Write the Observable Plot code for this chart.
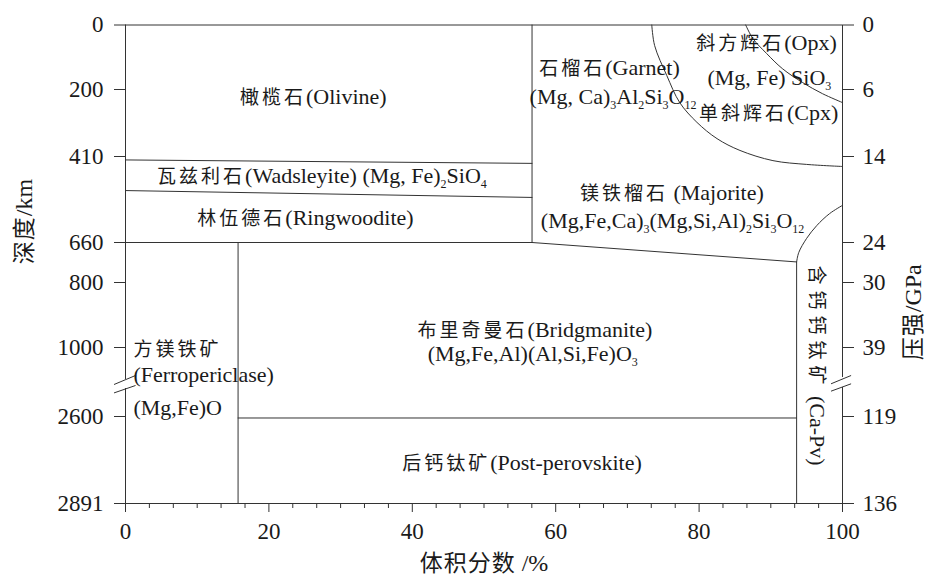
<!DOCTYPE html>
<html><head><meta charset="utf-8">
<script src="https://cdn.jsdelivr.net/npm/d3@7"></script>
<script src="https://cdn.jsdelivr.net/npm/@observablehq/plot@0.6"></script>
<style>
html,body{margin:0;padding:0;background:#fff;}
</style>
</head><body><div id="chart"></div>
<script>
// ---- Axis data ----
const depthTicks = [0, 200, 410, 660, 800, 1000, 2600, 2891];
const pressureLabels = ["0", "6", "14", "24", "30", "39", "119", "136"];
const xTicks = [0, 20, 40, 60, 80, 100];
const xMinorTicks = [3.33, 6.67, 10, 13.33, 16.67, 23.33, 26.67, 30, 33.33, 36.67,
  43.33, 46.67, 50, 53.33, 56.67, 63.33, 66.67, 70, 73.33, 76.67,
  83.33, 86.67, 90, 93.33, 96.67];

// ---- Phase boundaries: [volume %, depth km] ----
const olivineBase = [[0, 420], [56.7, 430]];
const wadsleyiteBase = [[0, 509], [56.7, 529]];
const ringwooditeBase = [[0, 660], [56.7, 660]];
const garnetEdge = [[56.7, 0], [56.7, 660]];
const majoriteBase = [[56.7, 660], [93.6, 728]];
const ferroEdge = [[15.7, 660], [15.7, 2891]];
const ppvTop = [[15.7, 2605], [93.6, 2605]];
const caPvEdge = [[93.6, 728], [93.6, 2891]];
const caPvCurve = [[93.6, 728], [93.9, 695], [95.0, 648], [96.4, 611], [98.2, 576], [100, 552]];
const cpxCurve = [[73.4, 0], [73.8, 64], [75.5, 157], [77.3, 241], [79.7, 303], [82.5, 354], [85.7, 391], [90.3, 422], [95.0, 433], [100, 439]];
const opxCurve = [[86.5, 0], [87.5, 42], [89.4, 88], [91.6, 135], [94.4, 178], [97.2, 213], [100, 241]];

// ---- Axis frame with breaks ----
const leftFrame = [{x: 0, y1: 0, y2: 1742}, {x: 0, y1: 1951, y2: 2891}];
const rightFrame = [{x: 100, y1: 0, y2: 1695}, {x: 100, y1: 1927, y2: 2891}];
const breakMarks = [
  {x1: -1.6, y1: 1858, x2: 1.4, y2: 1649},
  {x1: -1.6, y1: 2053, x2: 1.4, y2: 1881},
  {x1: 98.4, y1: 1842, x2: 101.2, y2: 1649},
  {x1: 98.4, y1: 2013, x2: 101.2, y2: 1842}
];

// ---- Labels (x in %, depth in km) ----
const centerLabels = [
  {text: "橄榄石(Olivine)", x: 26.2, depth: 222},
  {text: "瓦兹利石(Wadsleyite) (Mg, Fe)_2SiO_4", x: 27.4, depth: 468},
  {text: "林伍德石(Ringwoodite)", x: 25.1, depth: 590},
  {text: "石榴石(Garnet)", x: 67.5, depth: 132},
  {text: "(Mg, Ca)_3Al_2Si_3O_12", x: 68.0, depth: 222},
  {text: "斜方辉石(Opx)", x: 89.4, depth: 57},
  {text: "(Mg, Fe) SiO_3", x: 89.8, depth: 163},
  {text: "单斜辉石(Cpx)", x: 89.7, depth: 275},
  {text: "镁铁榴石 (Majorite)", x: 76.2, depth: 515},
  {text: "(Mg,Fe,Ca)_3(Mg,Si,Al)_2Si_3O_12", x: 76.3, depth: 596},
  {text: "布里奇曼石(Bridgmanite)", x: 57.1, depth: 945},
  {text: "(Mg,Fe,Al)(Al,Si,Fe)O_3", x: 56.8, depth: 1139},
  {text: "后钙钛矿(Post-perovskite)", x: 55.3, depth: 2754}
];
const leftLabels = [
  {text: "方镁铁矿", x: 1.1, depth: 1030},
  {text: "(Ferropericlase)", x: 1.1, depth: 1630},
  {text: "(Mg,Fe)O", x: 1.1, depth: 2391}
];
const verticalLabels = [
  {text: "含钙钙钛矿 (Ca-Pv)", x: 96.5, depth: 1417}
];

const lineStyle = {x: d => d[0], y: d => d[1], stroke: "#333", strokeWidth: 1, curve: "linear"};
const boundaryLines = [olivineBase, wadsleyiteBase, ringwooditeBase, garnetEdge, majoriteBase, ferroEdge, ppvTop, caPvEdge]
  .map(pts => Plot.line(pts, lineStyle));

const plot = Plot.plot({
  width: 929,
  height: 579,
  marginLeft: 125,
  marginRight: 87,
  marginTop: 24.5,
  marginBottom: 76,
  x: {domain: [0, 100]},
  y: {type: "linear", domain: depthTicks, range: [24.5, 89, 156, 242, 282, 347, 416, 503]},
  style: {fontFamily: "'Liberation Serif', 'Times New Roman', serif", fontSize: "22px", color: "#1a1a1a", background: "#fff", overflow: "visible"},
  marks: [
    // frame
    Plot.ruleY([0, 2891], {stroke: "#333", strokeWidth: 1}),
    Plot.ruleX(leftFrame, {x: "x", y1: "y1", y2: "y2", stroke: "#333", strokeWidth: 1}),
    Plot.ruleX(rightFrame, {x: "x", y1: "y1", y2: "y2", stroke: "#333", strokeWidth: 1}),
    Plot.link(breakMarks, {x1: "x1", y1: "y1", x2: "x2", y2: "y2", stroke: "#333", strokeWidth: 1, clip: false}),
    // axes
    Plot.axisY({ticks: depthTicks, tickSize: 11, tickPadding: 11, fontSize: 23, stroke: "#333", label: null, tickFormat: d => String(d)}),
    Plot.axisY({anchor: "right", ticks: depthTicks, tickSize: 11, tickPadding: 9, fontSize: 23, stroke: "#333", label: null,
      tickFormat: d => pressureLabels[depthTicks.indexOf(d)]}),
    Plot.axisX({ticks: xTicks, tickSize: 9, tickPadding: 10, fontSize: 23, stroke: "#333", label: null}),
    Plot.axisX({ticks: xMinorTicks, tickSize: 5, text: null, stroke: "#333", label: null}),
    // boundaries
    ...boundaryLines,
    Plot.line(caPvCurve, {...lineStyle, curve: "catmull-rom"}),
    Plot.line(cpxCurve, {...lineStyle, curve: "catmull-rom"}),
    Plot.line(opxCurve, {...lineStyle, curve: "catmull-rom"}),
    // labels
    Plot.text(centerLabels, {x: "x", y: "depth", text: "text", fontSize: 22, fill: "#1a1a1a", className: "rich"}),
    Plot.text(leftLabels, {x: "x", y: "depth", text: "text", fontSize: 22, textAnchor: "start", fill: "#1a1a1a", className: "rich"}),
    Plot.text(verticalLabels, {x: "x", y: "depth", text: "text", fontSize: 22, rotate: 90, fill: "#1a1a1a", className: "richv"}),
    // axis titles
    Plot.text(["深度/km"], {frameAnchor: "left", text: d => d, dx: -101, rotate: -90, fontSize: 24, fill: "#1a1a1a", className: "title"}),
    Plot.text(["压强/GPa"], {frameAnchor: "right", text: d => d, dx: 71, rotate: -90, fontSize: 24, fill: "#1a1a1a", className: "title"}),
    Plot.text(["体积分数 /%"], {frameAnchor: "bottom", text: d => d, dy: 67, fontSize: 24, fill: "#1a1a1a", className: "title"})
  ]
});

const SVGNS = "http://www.w3.org/2000/svg";
const RE = /_(\d+)|([\u3000-\u303f\u4e00-\u9fff\uff00-\uffef]+)|([^_\u3000-\u303f\u4e00-\u9fff\uff00-\uffef]+)/g;
function richify(el, cjkSize, cjkSpacing) {
  const s = el.textContent;
  el.textContent = "";
  let m, shifted = false;
  RE.lastIndex = 0;
  while ((m = RE.exec(s))) {
    const t = document.createElementNS(SVGNS, "tspan");
    if (m[1]) {
      t.textContent = m[1];
      t.setAttribute("font-size", 12);
      if (!shifted) { t.setAttribute("dy", 5); shifted = true; }
    } else {
      t.textContent = m[2] || m[3];
      if (shifted) { t.setAttribute("dy", -5); shifted = false; }
      if (m[2]) {
        t.setAttribute("font-family", "'Noto Sans CJK SC', sans-serif");
        t.setAttribute("font-size", cjkSize);
        t.setAttribute("letter-spacing", cjkSpacing);
      }
    }
    el.appendChild(t);
  }
}
plot.querySelectorAll("g.rich text").forEach(el => richify(el, 19, 3));
plot.querySelectorAll("g.richv text").forEach(el => richify(el, 19, 6));
plot.querySelectorAll("g.title text").forEach(el => richify(el, 23, 1));
document.getElementById("chart").appendChild(plot);
</script>
</body></html>
